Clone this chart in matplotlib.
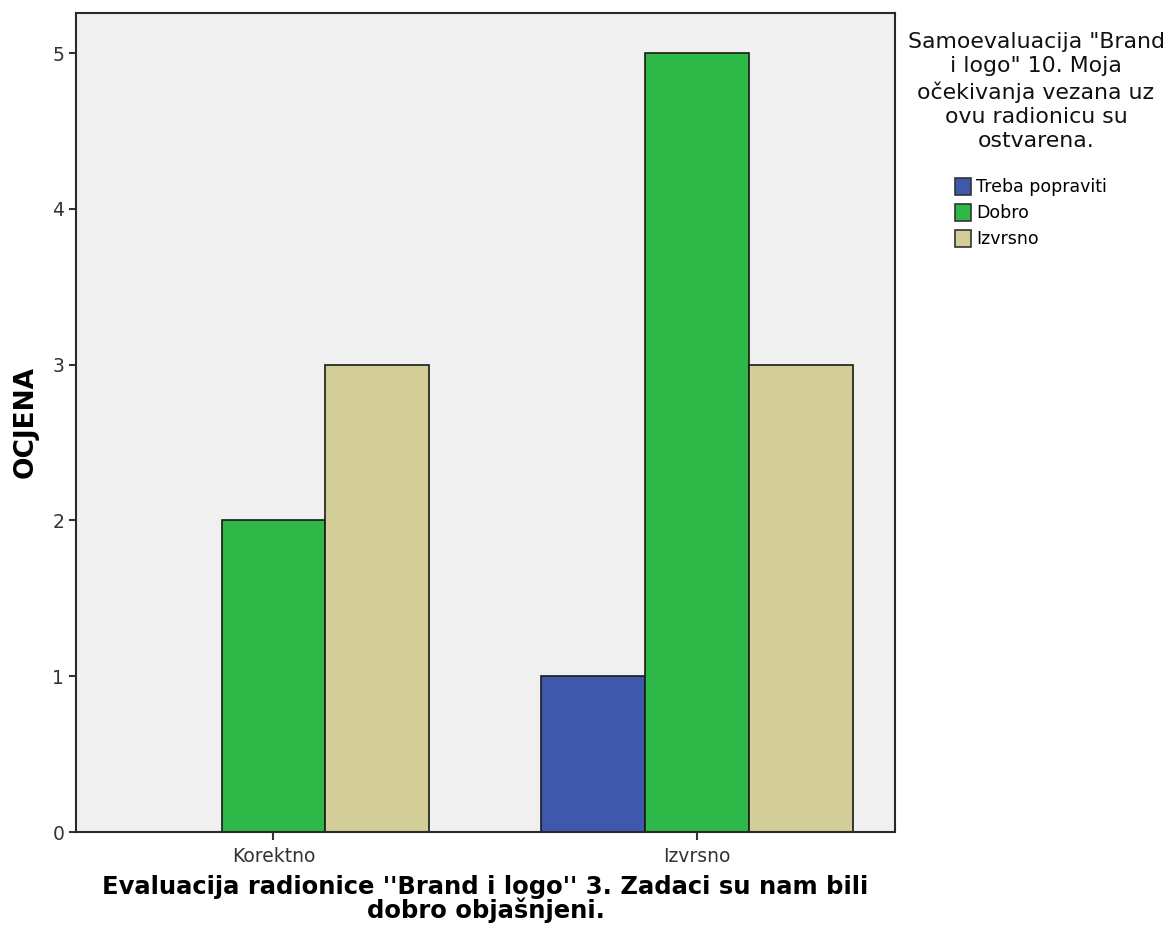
import matplotlib
matplotlib.use("Agg")
import matplotlib.pyplot as plt
import matplotlib.patches as mpatches
import numpy as np

# podaci
kategorije = ["Korektno", "Izvrsno"]
serije = ["Treba popraviti", "Dobro", "Izvrsno"]
treba_popraviti = [0, 1]
dobro = [2, 5]
izvrsno = [3, 3]
boje = ["#3e58ac", "#2eb848", "#d3ce97"]

plt.rcParams['font.family'] = ['DejaVu Sans']

fig = plt.figure(figsize=(11.73, 9.51), dpi=100)
W, H = 1173, 951
ax = fig.add_axes([76 / W, (H - 832) / H, (895 - 76) / W, (832 - 13) / H])
ax.set_facecolor("#f0f0f0")

x = np.arange(len(kategorije))
sirina = 0.245
vrijednosti = [treba_popraviti, dobro, izvrsno]
for i, (vals, boja) in enumerate(zip(vrijednosti, boje)):
    ax.bar(x + (i - 1) * sirina, vals, width=sirina, color=boja,
           edgecolor="#1a1a1a", linewidth=1.2, zorder=2)

ax.set_xlim(-0.466, 1.467)
ax.set_ylim(0, 5.257)
ax.set_yticks([0, 1, 2, 3, 4, 5])
ax.set_xticks(x)
ax.set_xticklabels(kategorije, fontsize=13.5, color="#222222")
ax.tick_params(axis='y', labelsize=13.5, length=5, width=1.5, colors="#333333")
ax.tick_params(axis='x', length=6, width=1.5, colors="#333333", pad=5)
for s in ax.spines.values():
    s.set_color("#2a2a2a")
    s.set_linewidth(1.5)

ax.set_ylabel("OCJENA", fontsize=19, fontweight="bold", labelpad=10)
ax.set_xlabel("Evaluacija radionice ''Brand i logo'' 3. Zadaci su nam bili\ndobro objašnjeni.",
              fontsize=17.5, fontweight="bold", labelpad=6, linespacing=0.95)

fig.text(1036 / W, 1 - 32 / H,
         'Samoevaluacija "Brand\ni logo" 10. Moja\nočekivanja vezana uz\novu radionicu su\nostvarena.',
         ha="center", va="top", fontsize=15.8, linespacing=1.27, color="#111111")

ruke = [mpatches.Patch(facecolor=b, edgecolor="#333333", linewidth=1.2) for b in boje]
fig.legend(ruke, serije, loc="upper left", bbox_to_anchor=(955 / W, 1 - 178 / H),
           frameon=False, fontsize=12.5, handlelength=0.9, handleheight=1.1,
           handletextpad=0.3, labelspacing=0.45, borderpad=0, borderaxespad=0)

fig.savefig("out.png", dpi=100)
